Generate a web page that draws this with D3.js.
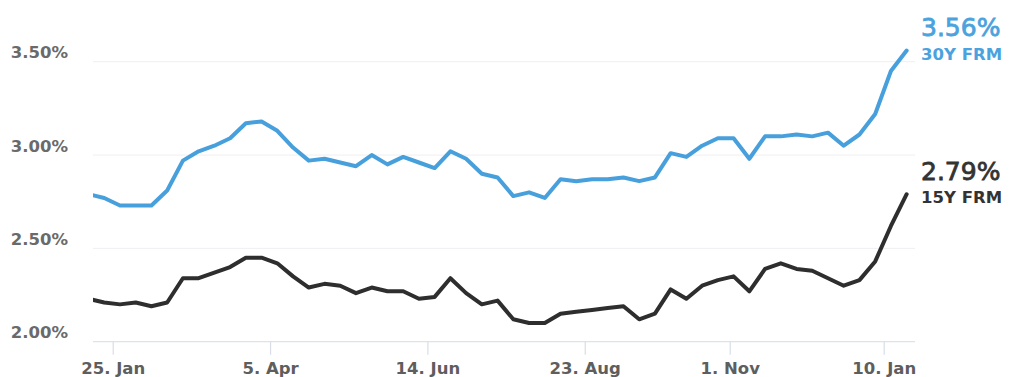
<!DOCTYPE html>
<html>
<head>
<meta charset="utf-8">
<script src="https://cdn.jsdelivr.net/npm/d3@7"></script>
<style>
  html, body { margin: 0; padding: 0; background: #fff; }
  svg { display: block; font-family: "DejaVu Sans", Verdana, sans-serif; }
</style>
</head>
<body>
<svg id="chart" width="1022" height="377"></svg>
<script>
// Weekly observation dates (one week, 2021-10-28, is absent from the source)
const dates = [
  "2021-01-14","2021-01-21","2021-01-28","2021-02-04","2021-02-11","2021-02-18","2021-02-25",
  "2021-03-04","2021-03-11","2021-03-18","2021-03-25","2021-04-01","2021-04-08","2021-04-15",
  "2021-04-22","2021-04-29","2021-05-06","2021-05-13","2021-05-20","2021-05-27","2021-06-03",
  "2021-06-10","2021-06-17","2021-06-24","2021-07-01","2021-07-08","2021-07-15","2021-07-22",
  "2021-07-29","2021-08-05","2021-08-12","2021-08-19","2021-08-26","2021-09-02","2021-09-09",
  "2021-09-16","2021-09-23","2021-09-30","2021-10-07","2021-10-14","2021-10-21","2021-11-04",
  "2021-11-10","2021-11-18","2021-11-24","2021-12-02","2021-12-09","2021-12-16","2021-12-23",
  "2021-12-30","2022-01-06","2022-01-13","2022-01-20"
];
const rate30 = [
  2.79,2.77,2.73,2.73,2.73,2.81,2.97,
  3.02,3.05,3.09,3.17,3.18,3.13,3.04,
  2.97,2.98,2.96,2.94,3.00,2.95,2.99,
  2.96,2.93,3.02,2.98,2.90,2.88,2.78,
  2.80,2.77,2.87,2.86,2.87,2.87,2.88,
  2.86,2.88,3.01,2.99,3.05,3.09,3.09,
  2.98,3.10,3.10,3.11,3.10,3.12,3.05,
  3.11,3.22,3.45,3.56
];
const rate15 = [
  2.23,2.21,2.20,2.21,2.19,2.21,2.34,
  2.34,2.37,2.40,2.45,2.45,2.42,2.35,
  2.29,2.31,2.30,2.26,2.29,2.27,2.27,
  2.23,2.24,2.34,2.26,2.20,2.22,2.12,
  2.10,2.10,2.15,2.16,2.17,2.18,2.19,
  2.12,2.15,2.28,2.23,2.30,2.33,2.35,
  2.27,2.39,2.42,2.39,2.38,2.34,2.30,
  2.33,2.43,2.62,2.79
];
const seriesNames = ["30Y FRM", "15Y FRM"];
const yTicks = [2.0, 2.5, 3.0, 3.5];
const tickDates = ["2021-01-25","2021-04-05","2021-06-14","2021-08-23","2021-11-01","2022-01-10"];
const tickLabels = ["25. Jan","5. Apr","14. Jun","23. Aug","1. Nov","10. Jan"];

const svg = d3.select("#chart");
const plot = { left: 93, right: 915, top: 61.7, bottom: 341.7 };
const parse = d3.utcParse("%Y-%m-%d");
const dateVals = dates.map(parse);

// ordinal-style axis: points equally spaced by index
const x = d3.scaleLinear().domain([0.286, 52.53]).range([plot.left, plot.right]);
const y = d3.scaleLinear().domain([2.0, 3.5]).range([plot.bottom, plot.top]);

function dateToIndex(d) {
  const t = parse(d);
  const i = d3.bisector(v => v).right(dateVals, t) - 1;
  const a = dateVals[i], b = dateVals[i + 1];
  return i + (t - a) / (b - a);
}

// grid
svg.append("g").selectAll("line").data(yTicks.filter(v => v > 2.0)).join("line")
  .attr("x1", plot.left).attr("x2", plot.right)
  .attr("y1", d => y(d)).attr("y2", d => y(d))
  .attr("stroke", "#efeff3").attr("stroke-width", 1);

// y labels
svg.append("g").selectAll("text").data(yTicks).join("text")
  .attr("x", 68).attr("y", d => y(d) - 3.4)
  .attr("text-anchor", "end")
  .attr("font-size", "16.5px").attr("font-weight", "bold")
  .attr("fill", "#6a6a6a")
  .text(d => d3.format(".2f")(d) + "%");

// x axis line
svg.append("line")
  .attr("x1", plot.left).attr("x2", plot.right)
  .attr("y1", plot.bottom).attr("y2", plot.bottom)
  .attr("stroke", "#dde2ec").attr("stroke-width", 1.2);

const xt = tickDates.map((d, i) => ({ pos: x(dateToIndex(d)), label: tickLabels[i] }));
svg.append("g").selectAll("line").data(xt).join("line")
  .attr("x1", d => d.pos).attr("x2", d => d.pos)
  .attr("y1", plot.bottom).attr("y2", plot.bottom + 13)
  .attr("stroke", "#d8dde8").attr("stroke-width", 1.2);
svg.append("g").selectAll("text").data(xt).join("text")
  .attr("x", d => d.pos).attr("y", 374)
  .attr("text-anchor", "middle")
  .attr("font-size", "16.5px").attr("font-weight", "bold")
  .attr("fill", "#5e5e5e")
  .text(d => d.label);

// clip
svg.append("clipPath").attr("id", "clip").append("rect")
  .attr("x", plot.left).attr("y", 0)
  .attr("width", plot.right - plot.left).attr("height", plot.bottom + 5);

const line = d3.line().x((d, i) => x(i)).y(d => y(d));
const colors = ["#47a0dc", "#2e2e2e"];
const labelColors = ["#4aa2de", "#333333"];
const series = [rate30, rate15];

const g = svg.append("g").attr("clip-path", "url(#clip)");
series.forEach((s, k) => {
  g.append("path").datum(s)
    .attr("d", line)
    .attr("fill", "none")
    .attr("stroke", colors[k])
    .attr("stroke-width", 4)
    .attr("stroke-linejoin", "round")
    .attr("stroke-linecap", "round");
});

// end labels
series.forEach((s, k) => {
  const last = s.length - 1;
  const ly = y(s[last]);
  svg.append("text")
    .attr("x", 921).attr("y", ly - 14.5)
    .attr("font-size", "25px")
    .attr("font-weight", "normal")
    .attr("fill", labelColors[k])
    .attr("stroke", labelColors[k])
    .attr("stroke-width", 0.8)
    .text(d3.format(".2f")(s[last]) + "%");
  svg.append("text")
    .attr("x", 921).attr("y", ly + 9)
    .attr("font-size", "16.5px").attr("font-weight", "bold")
    .attr("fill", labelColors[k])
    .text(seriesNames[k]);
});
</script>
</body>
</html>
